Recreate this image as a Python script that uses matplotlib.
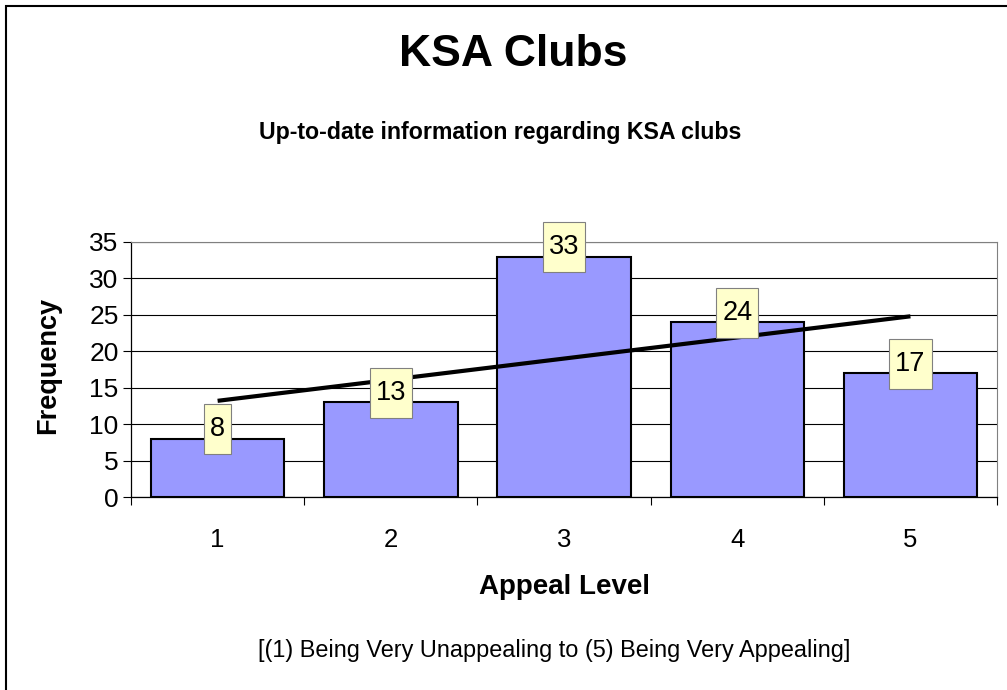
import numpy as np
import matplotlib.pyplot as plt
from matplotlib.patches import Rectangle

plt.rcParams['font.family'] = ['Liberation Sans', 'DejaVu Sans']

# chart data
levels = [1, 2, 3, 4, 5]
frequency = [8, 13, 33, 24, 17]
y_ticks = [0, 5, 10, 15, 20, 25, 30, 35]

fig = plt.figure(figsize=(10.07, 6.90), dpi=100)
ax = fig.add_axes([0.1301, 0.2797, 0.8600, 0.3696])

# bars
ax.bar(levels, frequency, width=0.77, color='#9999FF', edgecolor='black',
       linewidth=1.5, zorder=2)

# linear trend line over the categories
slope, intercept = np.polyfit(levels, frequency, 1)
trend_x = np.array([levels[0], levels[-1]])
ax.plot(trend_x, slope * trend_x + intercept, color='black', linewidth=3,
        solid_capstyle='butt', zorder=3)

# value labels in yellow boxes
for x, v in zip(levels, frequency):
    ax.text(x, v + 1.3, str(v), ha='center', va='center', fontsize=19.5,
            zorder=4,
            bbox=dict(boxstyle='square,pad=0.22', mutation_aspect=2.0,
                      facecolor='#FFFFCC', edgecolor='#808080', linewidth=0.8))

# axes styling
ax.set_xlim(0.5, 5.5)
ax.set_ylim(0, 35)
ax.set_yticks(y_ticks)
ax.set_xticks(levels)
ax.set_xticks(np.arange(0.5, 5.6, 1), minor=True)
ax.tick_params(axis='x', which='major', length=0, labelsize=18.5, pad=22)
ax.tick_params(axis='x', which='minor', length=6, width=0.8, direction='out')
ax.tick_params(axis='y', length=6, width=0.8, direction='out', labelsize=19, pad=3)
ax.yaxis.grid(True, color='black', linewidth=0.8, zorder=0)
ax.set_axisbelow(True)
ax.spines['top'].set_color('#808080')
ax.spines['right'].set_color('#808080')
ax.spines['left'].set_linewidth(0.9)
ax.spines['bottom'].set_linewidth(0.9)

ax.set_ylabel('Frequency', fontsize=19.5, fontweight='bold')
ax.yaxis.label.set_va('center')
ax.yaxis.set_label_coords(-0.0955, 0.515)
ax.set_xlabel('Appeal Level', fontsize=20, fontweight='bold')
ax.xaxis.label.set_va('center')
ax.xaxis.set_label_coords(0.5, -0.353)

# titles and note
fig.text(0.5095, 1 - 55 / 690, 'KSA Clubs', ha='center', va='center',
         fontsize=32, fontweight='bold')
fig.text(0.4965, 1 - 132 / 690, 'Up-to-date information regarding KSA clubs',
         ha='center', va='center', fontsize=16.7, fontweight='bold')
fig.text(0.5505, 1 - 651 / 690,
         '[(1) Being Very Unappealing to (5) Being Very Appealing]',
         ha='center', va='center', fontsize=16.9)

# chart area border
fig.patches.append(Rectangle((6 / 1007, -0.05), 1.1, 1 - 6 / 690 + 0.05,
                             transform=fig.transFigure, fill=False,
                             edgecolor='black', linewidth=1.5))

fig.savefig('out.png', dpi=100)
